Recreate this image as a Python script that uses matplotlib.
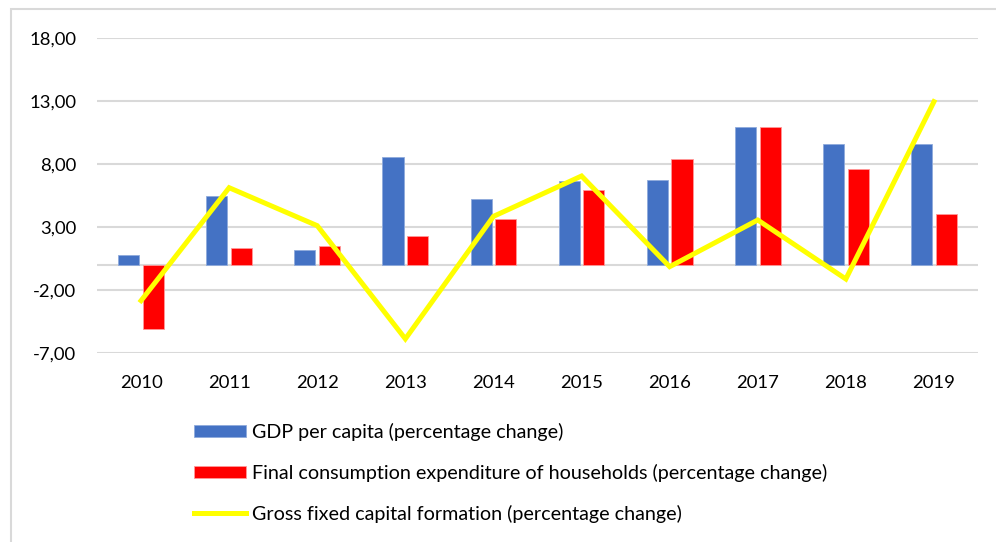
import matplotlib
matplotlib.use("Agg")
import matplotlib.pyplot as plt
import numpy as np
from matplotlib.patches import Rectangle
from matplotlib.lines import Line2D
from matplotlib.patches import Patch

years = ["2010", "2011", "2012", "2013", "2014", "2015", "2016", "2017", "2018", "2019"]
gdp = [0.77, 5.43, 1.17, 8.56, 5.22, 6.68, 6.76, 10.97, 9.56, 9.56]
consumption = [-5.09, 1.33, 1.51, 2.31, 3.63, 5.94, 8.40, 10.92, 7.60, 4.00]
gfcf = [-2.86, 6.12, 3.10, -5.90, 3.84, 7.05, -0.16, 3.55, -1.14, 12.96]
yticks = [-7, -2, 3, 8, 13, 18]
ytick_labels = ["-7,00", "-2,00", "3,00", "8,00", "13,00", "18,00"]
labels = ["GDP per capita (percentage change)",
          "Final consumption expenditure of households (percentage change)",
          "Gross fixed capital formation (percentage change)"]

plt.rcParams['font.family'] = ['Lato', 'DejaVu Sans']

W, H = 996, 542
fig = plt.figure(figsize=(W / 100, H / 100), dpi=100)
ax = fig.add_axes([97 / W, 1 - 352.7 / H, (978 - 97) / W, (352.7 - 38.3) / H])

x = np.arange(len(years))
bw = 0.24
off = 0.14
blue = "#4472C4"
red = "#FF0000"
yellow = "#FFFF00"
grid = "#D9D9D9"

ax.bar(x - off, gdp, width=bw, color=blue, edgecolor="#8FAADC", linewidth=0.6, zorder=3)
ax.bar(x + off, consumption, width=bw, color=red, edgecolor="#FF9999", linewidth=0.6, zorder=3)
ax.plot(x, gfcf, color=yellow, linewidth=3.6, zorder=4, solid_joinstyle='miter')

ax.set_xlim(-0.5, len(years) - 0.5)
ax.set_ylim(-7, 18)
ax.set_yticks(yticks)
ax.set_yticklabels(ytick_labels)
ax.set_xticks(x)
ax.set_xticklabels(years)
for y in yticks:
    ax.axhline(y, color=grid, linewidth=1.5, zorder=1)
ax.axhline(0, color=grid, linewidth=1.5, zorder=2)
for s in ax.spines.values():
    s.set_visible(False)
ax.tick_params(axis='both', length=0, labelsize=13.3, colors="#000000")
ax.tick_params(axis='y', pad=15)
ax.tick_params(axis='x', pad=16)

# chart border
fig.patches.append(Rectangle((11 / W, -0.1), 1.2, 1.1 - 9 / H, transform=fig.transFigure,
                             fill=False, edgecolor=grid, linewidth=1.5))

handles = [Patch(facecolor=blue, edgecolor="#8FAADC", linewidth=0.6),
           Patch(facecolor=red, edgecolor="#FF9999", linewidth=0.6),
           Line2D([0], [0], color=yellow, linewidth=3.6)]
fig.legend(handles, labels, loc='upper left', bbox_to_anchor=(176 / W, 1 - 405 / H),
           frameon=False, fontsize=14.2, handlelength=2.64, handleheight=0.6,
           labelspacing=1.16, handletextpad=0.3)

fig.savefig("out.png", dpi=100)
